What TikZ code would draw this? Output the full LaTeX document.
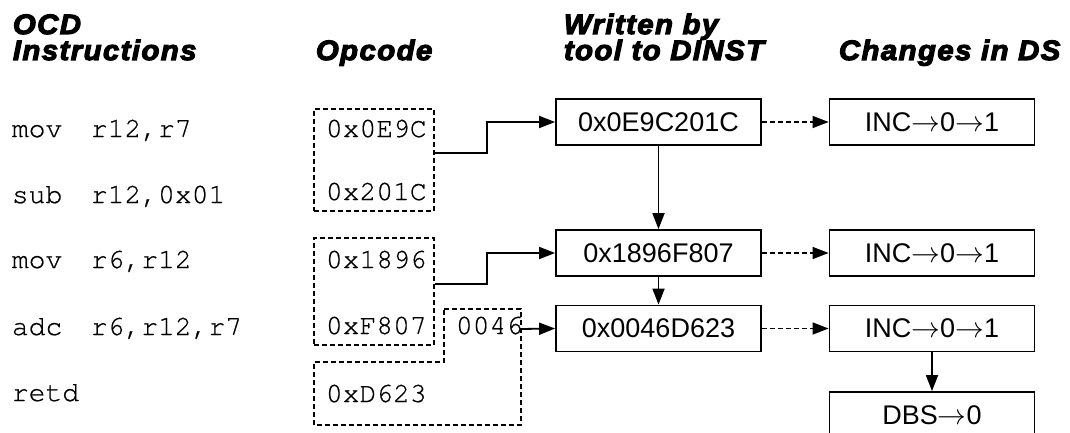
\documentclass[tikz,border=0pt]{standalone}
\usepackage{fontspec}
\setmainfont{Liberation Sans}
\setmonofont[FakeBold=0.6]{texgyrecursor-regular.otf}
\newfontfamily\headfont[FakeStretch=1.05,LetterSpace=5,FakeBold=4]{Liberation Sans}
\usetikzlibrary{positioning,arrows.meta}

\begin{document}
\begin{tikzpicture}[x=0.5pt,y=-0.5pt,line width=0.9pt,
    >={Triangle[length=8pt,width=6pt]},
    head/.style={anchor=base west,inner sep=0pt,font=\headfont\bfseries\itshape\fontsize{14}{16}\selectfont},
    asm/.style={anchor=base west,inner sep=0pt,font=\ttfamily\fontsize{14}{16}\selectfont},
    reg/.style={draw,minimum width=102.5pt,minimum height=23pt,inner sep=0pt,font=\fontsize{13.5}{16}\selectfont},
    grp/.style={draw,dash pattern=on 2.5pt off 1.5pt,line width=0.75pt,inner sep=0pt},
    dsh/.style={->,dash pattern=on 2.5pt off 1.5pt,line width=0.75pt}]
  \clip (0,0) rectangle (1070,433);
  %% column heads
  \node[head] (h_ocd) at (12,34) {OCD};
  \node[head] (h_ins) at (12,60) {Instructions};
  \node[head] (h_op) at (315,60) {Opcode};
  \node[head] (h_wr) at (563,34) {Written by};
  \node[head] (h_to) at (563,60) {tool to DINST};
  \node[head] (h_ds) at (838,60) {Changes in DS};
  %% instructions
  \node[asm] (i_1) at (11,137) {\makebox[39.5pt][l]{mov}r12,r7};
  \node[asm] (i_2) at (11,203) {\makebox[39.5pt][l]{sub}r12,0x01};
  \node[asm] (i_3) at (11,268) {\makebox[39.5pt][l]{mov}r6,r12};
  \node[asm] (i_4) at (11,335) {\makebox[39.5pt][l]{adc}r6,r12,r7};
  \node[asm] (i_5) at (11,401) {retd};
  %% opcodes
  \node[grp,minimum width=60pt,minimum height=51pt] (g_1) at (374,160) {};
  \node[grp,minimum width=60pt,minimum height=53.5pt] (g_2) at (374,291.5) {};
  \draw[grp] (444,309) -- (521,309) -- (521,425) -- (314,425) -- (314,362) -- (444,362) -- cycle;
  \coordinate (g_3) at (521,329);
  \node[asm] (o_1) at (325,137) {0x0E9C};
  \node[asm] (o_2) at (325,200) {0x201C};
  \node[asm] (o_3) at (325,268) {0x1896};
  \node[asm] (o_4) at (325,334) {0xF807};
  \node[asm] (o_5) at (455,334) {0046};
  \node[asm] (o_6) at (325,402) {0xD623};
  %% DINST
  \node[reg] (w_1) at (658.5,122) {0x0E9C201C};
  \node[reg] (w_2) at (658.5,253) {0x1896F807};
  \node[reg] (w_3) at (658.5,328.5) {0x0046D623};
  %% DS
  \node[reg] (d_1) at (932,122) {INC$\rightarrow$0$\rightarrow$1};
  \node[reg] (d_2) at (932,253) {INC$\rightarrow$0$\rightarrow$1};
  \node[reg] (d_3) at (932,328.5) {INC$\rightarrow$0$\rightarrow$1};
  \node[reg] (d_4) at (932,415) {DBS$\rightarrow$0};
  \draw[->] ([yshift=3.5pt]g_1.east) -- ++(52,0) |- (w_1);
  \draw[->] ([yshift=3.75pt]g_2.east) -- ++(52,0) |- (w_2);
  \draw[->] (g_3) -- (w_3.west);
  \path[->] (w_1) edge (w_2)
  (w_2) edge (w_3)
  (d_3) edge (d_4);
  \path[dsh] (w_1) edge (d_1)
  (w_2) edge (d_2)
  (w_3) edge (d_3);
\end{tikzpicture}
\end{document}
